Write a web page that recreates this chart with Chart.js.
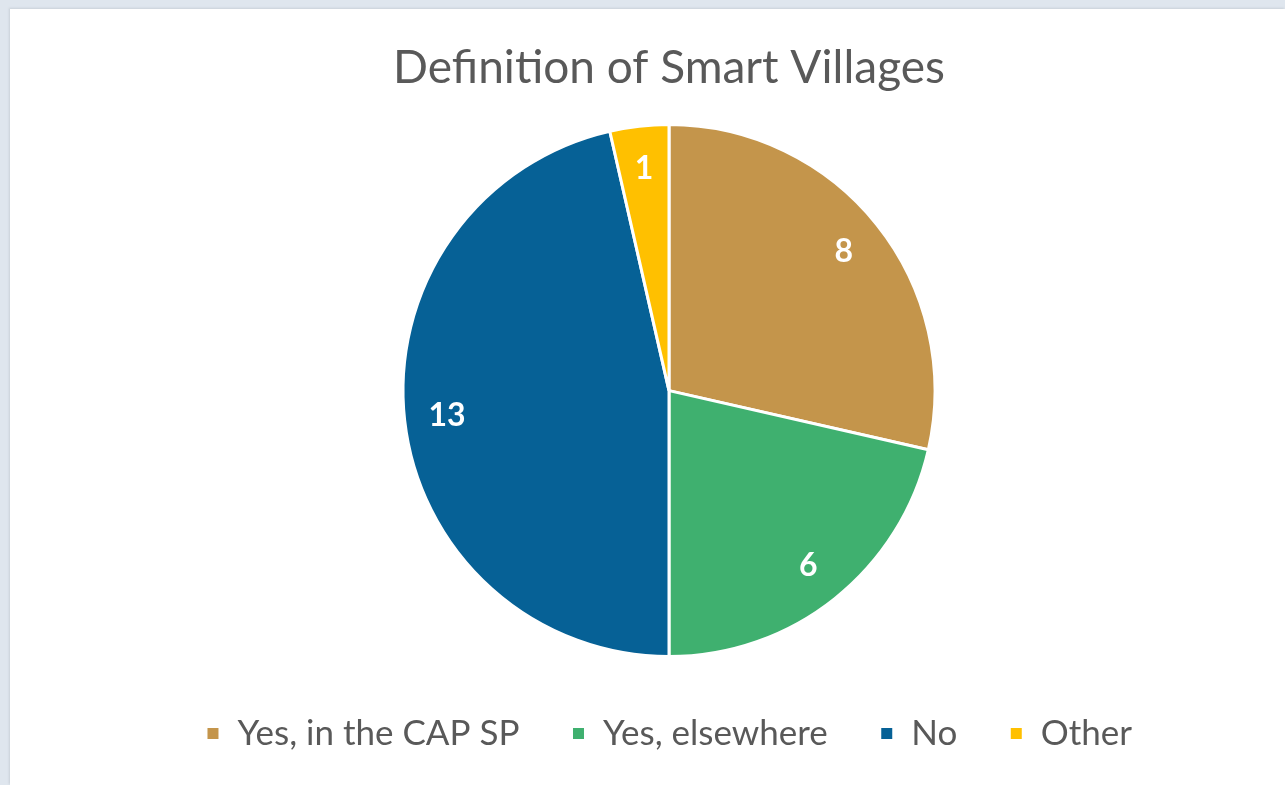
<!DOCTYPE html>
<html>
<head>
<meta charset="utf-8">
<script src="https://cdn.jsdelivr.net/npm/chart.js@4"></script>
<style>
    html, body { margin: 0; padding: 0; width: 1285px; height: 785px; overflow: hidden; background: #dfe6ee; }
    #frame { position: absolute; left: 10px; top: 9px; width: 1275px; height: 776px; background: #ffffff; overflow: hidden; box-shadow: -1px -1px 2px #c9d0d8; }
    #wrap { position: absolute; left: 0; top: 0; width: 1318px; height: 776px; }
</style>
</head>
<body>
<div id="frame">
    <div id="wrap"><canvas id="pieChart"></canvas></div>
</div>
<script>
// Chart values
var categories = ['Yes, in the CAP SP', 'Yes, elsewhere', 'No', 'Other'];
var counts = [8, 6, 13, 1];
var sliceColors = ['#c4954b', '#3fb06f', '#066196', '#ffc000'];

// simple inline data label plugin (no datalabels plugin available)
var sliceLabels = {
    id: 'sliceLabels',
    afterDatasetsDraw: function (chart) {
        var ctx = chart.ctx;
        var meta = chart.getDatasetMeta(0);
        ctx.save();
        ctx.fillStyle = '#ffffff';
        ctx.font = 'bold 32px Lato, "Open Sans", sans-serif';
        ctx.textAlign = 'center';
        ctx.textBaseline = 'middle';
        meta.data.forEach(function (arc, i) {
            var p = arc.getProps(['x', 'y', 'startAngle', 'endAngle', 'outerRadius'], true);
            var mid = (p.startAngle + p.endAngle) / 2;
            var r = p.outerRadius * 0.84;
            ctx.fillText(String(chart.data.datasets[0].data[i]), p.x + Math.cos(mid) * r, p.y + Math.sin(mid) * r);
        });
        ctx.restore();
    }
};

document.addEventListener("DOMContentLoaded", function () {
    var ctx = document.getElementById('pieChart').getContext('2d');

    var data = {
        labels: categories,
        datasets: [{
            data: counts,
            backgroundColor: sliceColors,
            borderColor: '#ffffff',
            borderWidth: 3,
            radius: 266
        }]
    };

    var pieChart = new Chart(ctx, {
        type: 'pie',
        data: data,
        plugins: [sliceLabels],
        options: {
            responsive: true,
            maintainAspectRatio: false,
            animation: false,
            layout: { padding: { top: 0, bottom: 24 } },
            plugins: {
                title: {
                    display: true,
                    text: 'Definition of Smart Villages',
                    color: '#595959',
                    font: { family: 'Lato, "Open Sans", sans-serif', size: 46, weight: 'normal' },
                    padding: { top: 32, bottom: 21 }
                },
                legend: {
                    position: 'bottom',
                    labels: {
                        color: '#595959',
                        font: { family: 'Lato, "Open Sans", sans-serif', size: 35 },
                        boxWidth: 14,
                        boxHeight: 14,
                        padding: 52
                    }
                },
                tooltip: { enabled: false }
            }
        }
    });
});
</script>
</body>
</html>
